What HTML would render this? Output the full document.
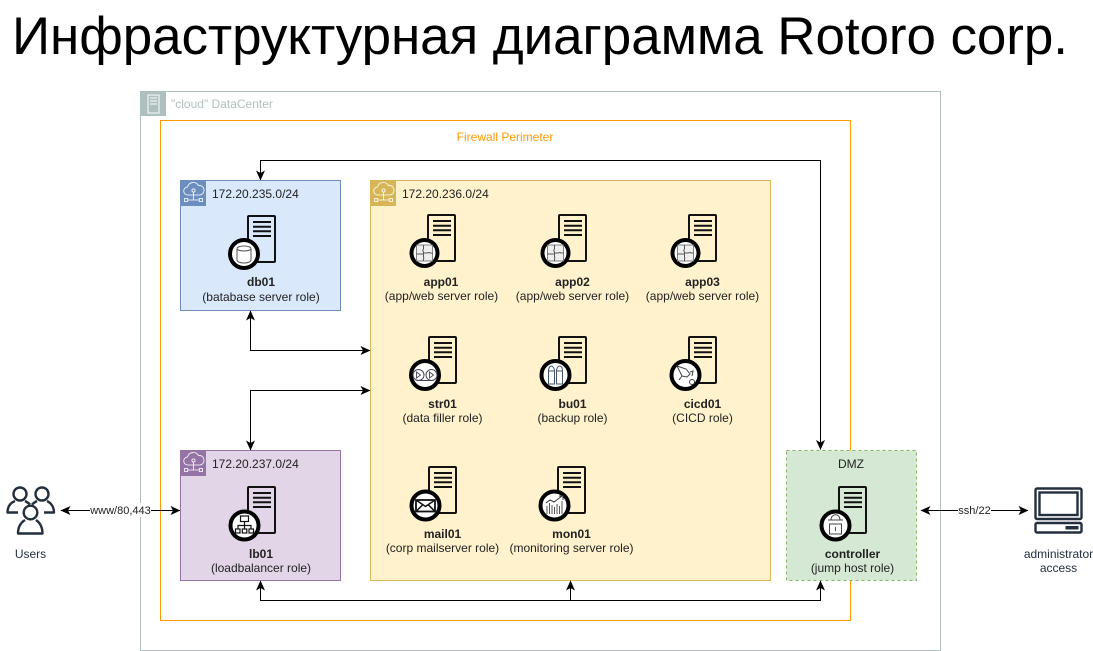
<!DOCTYPE html>
<html><head><meta charset="utf-8"><style>
html,body{margin:0;padding:0;background:#fff}
svg{display:block}
text{font-family:"Liberation Sans","DejaVu Sans",sans-serif;font-size:12px;fill:#222}
.c{text-anchor:middle}
.b{font-weight:bold}
.l{fill:none;stroke:#000;stroke-width:1}
</style></head><body>
<svg width="1093" height="651" viewBox="0 0 1093 651" xmlns="http://www.w3.org/2000/svg">
<defs>
<g id="srv"><rect x="0" y="0" width="27" height="46" rx="1" fill="none" stroke="#111" stroke-width="2"/><path d="M5 6H23M5 10.700H23M5 15.300H23M5 20H23" stroke="#111" stroke-width="2" fill="none"/></g>
<g id="net"><rect width="25" height="25" fill="currentColor"/><path d="M7 14a4 4 0 0 1-.5-8 6 6 0 0 1 11-1.500 4.500 4.500 0 0 1 1.500 9.500H7zM12.500 11v8M7 19h11" fill="none" stroke="#fff" stroke-width=".8"/><circle cx="12.500" cy="9.500" r="1.600" fill="none" stroke="#fff" stroke-width=".8"/><rect x="3.500" y="17.500" width="3.200" height="3" fill="none" stroke="#fff" stroke-width=".8"/><rect x="18.300" y="17.500" width="3.200" height="3" fill="none" stroke="#fff" stroke-width=".8"/></g>
<g id="puz"><rect x="-8" y="-8" width="16" height="16" fill="#eee" stroke="#777" stroke-width=".9"/><path d="M-1-8V-4a2 2 0 0 0 0 3V1H-8M-1 1V4a2 2 0 0 1 0 2V8M-1 0H3a2 2 0 0 1 2.500 0H8" fill="none" stroke="#555" stroke-width="1"/></g>
<marker id="m" viewBox="0 0 10 10" refX="9.500" refY="5" markerWidth="10" markerHeight="9" orient="auto-start-reverse" markerUnits="userSpaceOnUse" preserveAspectRatio="none"><path d="M0 0L10 5 0 10 2.500 5z" fill="#000"/></marker>
</defs>

<text x="12" y="54" style="font-size:53px;fill:#000" textLength="1056" lengthAdjust="spacing">Инфраструктурная диаграмма Rotoro corp.</text>

<rect x="140.500" y="91.500" width="800" height="559" fill="#fff" stroke="#aebfbf"/>
<rect x="141" y="92" width="25" height="24" fill="#aebfbf"/>
<rect x="148" y="95" width="11" height="18" fill="none" stroke="#fff" stroke-width="1"/>
<path d="M150 98h7M150 101h7M150 104h7" stroke="#fff" fill="none"/>
<text x="171" y="108" style="fill:#aebfbf">"cloud" DataCenter</text>

<rect x="160.500" y="120.500" width="690" height="500" fill="#fff" stroke="#f90"/>
<text x="505" y="141" class="c" style="fill:#f90">Firewall Perimeter</text>

<rect x="180.500" y="180.500" width="160" height="130" fill="#dae8fc" stroke="#6c8ebf"/>
<use href="#net" x="181" y="181" style="color:#6c8ebf"/>
<text x="212" y="198">172.20.235.0/24</text>

<rect x="370.500" y="180.500" width="400" height="400" fill="#fff2cc" stroke="#d6b656"/>
<use href="#net" x="371" y="181" style="color:#d6b656"/>
<text x="402" y="198">172.20.236.0/24</text>

<rect x="180.500" y="450.500" width="160" height="130" fill="#e1d5e7" stroke="#9673a6"/>
<use href="#net" x="181" y="451" style="color:#9673a6"/>
<text x="212" y="468">172.20.237.0/24</text>

<rect x="786.500" y="450.500" width="130" height="130" fill="#d5e8d4" stroke="#82b366" stroke-dasharray="3 3"/>
<text x="851" y="468" class="c">DMZ</text>

<!-- connectors -->
<path class="l" d="M820.500 449.500V160.500H260.500V180" marker-start="url(#m)" marker-end="url(#m)"/>
<path class="l" d="M250.500 311V350.500H370" marker-start="url(#m)" marker-end="url(#m)"/>
<path class="l" d="M250.500 450V390.500H370" marker-start="url(#m)" marker-end="url(#m)"/>
<path class="l" d="M260.500 581V600.500H820.500V581" marker-start="url(#m)" marker-end="url(#m)"/>
<path class="l" d="M570.500 600.500V581" marker-end="url(#m)"/>
<path class="l" d="M61 510.500H180" marker-start="url(#m)" marker-end="url(#m)"/>
<path class="l" d="M921 510.500H1028" marker-start="url(#m)" marker-end="url(#m)"/>
<rect x="90" y="503" width="61" height="14" fill="#fff"/>
<text x="120.500" y="514" class="c" style="font-size:11px">www/80,443</text>
<rect x="958" y="503" width="33" height="14" fill="#fff"/>
<text x="974.500" y="514" class="c" style="font-size:11px">ssh/22</text>

<!-- db01 -->
<use href="#srv" x="248" y="216"/>
<circle cx="244" cy="254" r="14" fill="#fff" stroke="#000" stroke-width="4"/>
<path d="M237 249v11a7 3 0 0 0 14 0v-11" fill="none" stroke="#555" stroke-width="1"/><ellipse cx="244" cy="248.500" rx="7" ry="2.500" fill="none" stroke="#555" stroke-width="1"/>
<text x="261" y="286" class="c b">db01</text>
<text x="261" y="301" class="c">(batabase server role)</text>

<!-- app01-03 -->
<use href="#srv" x="428" y="215"/>
<circle cx="424.500" cy="253" r="13" fill="#fff" stroke="#000" stroke-width="4"/>
<use href="#puz" x="424.500" y="253"/>
<text x="441" y="286" class="c b">app01</text>
<text x="441.500" y="300" class="c">(app/web server role)</text>

<use href="#srv" x="559" y="215"/>
<circle cx="555.500" cy="253" r="13" fill="#fff" stroke="#000" stroke-width="4"/>
<use href="#puz" x="555.500" y="253"/>
<text x="572.500" y="286" class="c b">app02</text>
<text x="572.500" y="300" class="c">(app/web server role)</text>

<use href="#srv" x="689" y="215"/>
<circle cx="685.500" cy="253" r="13" fill="#fff" stroke="#000" stroke-width="4"/>
<use href="#puz" x="685.500" y="253"/>
<text x="702.500" y="286" class="c b">app03</text>
<text x="702.500" y="300" class="c">(app/web server role)</text>

<!-- str01 -->
<use href="#srv" x="429" y="337"/>
<circle cx="425" cy="375" r="14" fill="#fff" stroke="#000" stroke-width="4"/>
<circle cx="418.500" cy="375" r="5.500" fill="none" stroke="#445" stroke-width="1"/><circle cx="431.500" cy="375" r="5.500" fill="none" stroke="#445" stroke-width="1"/>
<path d="M416.500 372l4 3-4 3zM429.500 372l4 3-4 3z" fill="none" stroke="#445" stroke-width=".9"/>
<path d="M418 380.500H432" stroke="#445" fill="none"/>
<text x="442.500" y="408" class="c b">str01</text>
<text x="442.500" y="422" class="c">(data filler role)</text>

<!-- bu01 -->
<use href="#srv" x="559" y="337"/>
<circle cx="555.500" cy="375" r="14" fill="#fff" stroke="#000" stroke-width="4"/>
<path d="M548.500 371h6v13h-6zM556.500 371h6v13h-6zM548.500 371c0-4 2-5 3-5s3 2 3 5M556.500 371c0-3 1.500-5 3-5s3 1 3 5" fill="none" stroke="#456" stroke-width="1"/>
<text x="572.500" y="408" class="c b">bu01</text>
<text x="572.500" y="422" class="c">(backup role)</text>

<!-- cicd01 -->
<use href="#srv" x="689" y="337"/>
<circle cx="685.500" cy="375" r="14" fill="#fff" stroke="#000" stroke-width="4"/>
<path d="M677 366l9 3 4 5-3 3-5-1-2-4zM682 376l-3 4M690 372l3-1-1 5" fill="none" stroke="#444" stroke-width="1"/><circle cx="692" cy="382" r="2.500" fill="none" stroke="#444" stroke-width="1"/>
<text x="702.500" y="408" class="c b">cicd01</text>
<text x="702.500" y="422" class="c">(CICD role)</text>

<!-- mail01 -->
<use href="#srv" x="429" y="467"/>
<circle cx="425.500" cy="505.500" r="14" fill="#fff" stroke="#000" stroke-width="4"/>
<rect x="416" y="500" width="19" height="11.500" fill="none" stroke="#111" stroke-width="1.800"/><path d="M416 500l9.500 6.500 9.500-6.500M416 511.500l7-7M435 511.500l-7-7" fill="none" stroke="#111" stroke-width="1.500"/>
<text x="442.500" y="538" class="c b">mail01</text>
<text x="442.500" y="552" class="c">(corp mailserver role)</text>

<!-- mon01 -->
<use href="#srv" x="558" y="467"/>
<circle cx="554.500" cy="505.500" r="14" fill="#fff" stroke="#000" stroke-width="4"/>
<path d="M546 503l4-3 4 2 4-3 4-3M559 496h4v4" fill="none" stroke="#333" stroke-width="1"/>
<path d="M547 506v8M549.500 503v11M552 505v9M554.500 507v7M557 504v10M559.500 506v8M562 501v13" stroke="#555" stroke-width="1" fill="none"/>
<text x="571.500" y="538" class="c b">mon01</text>
<text x="571.500" y="552" class="c">(monitoring server role)</text>

<!-- lb01 -->
<use href="#srv" x="248" y="487"/>
<circle cx="244.500" cy="525.500" r="14" fill="#fff" stroke="#000" stroke-width="4"/>
<rect x="240.500" y="516" width="8" height="5.500" fill="none" stroke="#111" stroke-width="1.200"/>
<path d="M244.500 521.500v4M238 529v-3.500h13v3.500M244.500 525.500v3.500" fill="none" stroke="#111" stroke-width="1.200"/>
<rect x="235.500" y="529" width="4.500" height="4" fill="none" stroke="#111" stroke-width="1.200"/><rect x="242.300" y="529" width="4.500" height="4" fill="none" stroke="#111" stroke-width="1.200"/><rect x="249" y="529" width="4.500" height="4" fill="none" stroke="#111" stroke-width="1.200"/>
<text x="261" y="558" class="c b">lb01</text>
<text x="261" y="572" class="c">(loadbalancer role)</text>

<!-- controller -->
<use href="#srv" x="839" y="487"/>
<circle cx="835.500" cy="525.500" r="14" fill="#fff" stroke="#000" stroke-width="4"/>
<rect x="829.500" y="524" width="12" height="10" fill="none" stroke="#444" stroke-width="1"/>
<path d="M831 520c0-7 9-7 9 0M828 520h15M835.500 527v4" fill="none" stroke="#444" stroke-width="1"/>
<text x="852.500" y="558" class="c b">controller</text>
<text x="852.500" y="572" class="c">(jump host role)</text>

<!-- users -->
<g fill="none" stroke="#232f3e" stroke-width="2.400" stroke-linejoin="round">
<circle cx="20" cy="494" r="6.500"/><path d="M15 501c-5 2-7.500 6-7.500 11.500H18M25 501c2 1 3.500 2 5 3.500"/>
<circle cx="42" cy="494" r="6.500"/><path d="M37 501c-2 1-3.500 2-5 3.500M47 501c4 2 7 6 7 11.500H44"/>
<circle cx="30.500" cy="512.500" r="6.800"/><path d="M25 520c-4 2.500-7 7-7 13.500H42.500c0-6.500-3-11-6.500-13.500"/>
</g>
<text x="30.500" y="558" class="c" style="fill:#232f3e">Users</text>

<!-- computer -->
<g fill="none" stroke="#232f3e" stroke-width="2.400">
<rect x="1035.500" y="488.500" width="46" height="30.500" rx="1.500"/>
<rect x="1039.500" y="492.500" width="38" height="22.500"/>
<rect x="1035.500" y="523" width="46" height="9.500" rx="1.500"/>
</g>
<rect x="1065.500" y="526" width="13" height="3.500" fill="#232f3e"/>
<text x="1058.500" y="558" class="c" style="fill:#232f3e">administrator</text>
<text x="1058.500" y="572" class="c" style="fill:#232f3e">access</text>
</svg>
</body></html>
